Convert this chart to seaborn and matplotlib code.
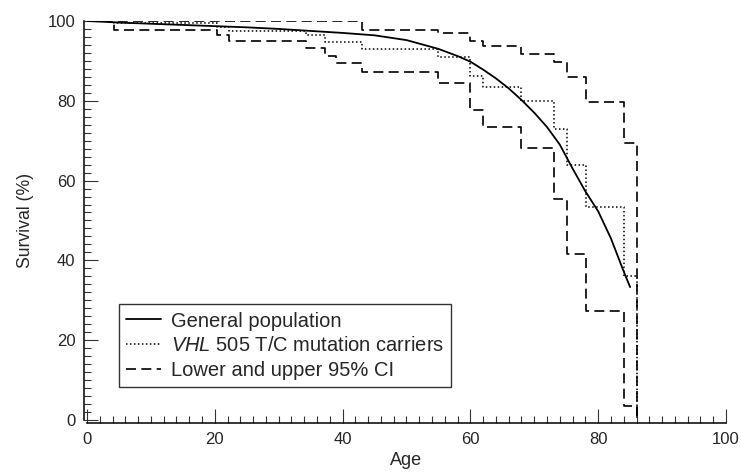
import matplotlib
matplotlib.use('Agg')
import matplotlib.pyplot as plt
from matplotlib.ticker import MultipleLocator
import seaborn as sns

# General population survival curve
pop_age = [0, 5, 10, 15, 20, 25, 30, 35, 40, 45, 50, 55, 58, 60, 62, 64, 66,
           68, 70, 72, 74, 76, 78, 80, 82, 84, 85]
pop_surv = [100, 99.6, 99.3, 99.0, 98.7, 98.4, 98.0, 97.5, 97.0, 96.4, 95.2,
            93.0, 91.2, 89.8, 87.8, 85.6, 83.1, 80.2, 77.0, 73.4, 69.0, 63.0,
            57.3, 52.3, 45.5, 37.2, 33.3]

# Kaplan-Meier steps for VHL 505 T/C carriers with 95% CI
step_age = [0, 4.2, 20.3, 22.3, 34.3, 37.2, 39.0, 43.1, 55.0, 60.0, 62.0,
            68.0, 73.1, 75.1, 78.1, 84.0, 86.0]
carrier_surv = [100, 99.4, 98.4, 97.5, 96.5, 94.7, 94.7, 93.0, 90.9, 86.1,
                83.4, 79.9, 73.0, 63.9, 53.4, 36.2, 0]
lower_ci = [100, 97.8, 96.4, 95.1, 93.2, 91.1, 89.5, 87.2, 84.5, 77.6, 73.5,
            68.1, 55.4, 41.5, 27.2, 3.4, 0]
upper_ci = [100, 100, 100, 100, 100, 100, 100, 97.8, 97.0, 95.0, 93.8, 91.7,
            89.6, 85.9, 79.7, 69.3, 0]

sns.set_style('white')
plt.rcParams['font.family'] = ['Liberation Sans', 'DejaVu Sans']
plt.rcParams['mathtext.fontset'] = 'custom'
plt.rcParams['mathtext.it'] = 'Liberation Sans:italic'
plt.rcParams['mathtext.rm'] = 'Liberation Sans'

fig = plt.figure(figsize=(7.41, 4.73), dpi=100)
ax = fig.add_axes([0.1174, 0.1121, 0.8623, 0.8436])

sns.lineplot(x=pop_age, y=pop_surv, ax=ax, color='black', linewidth=1.3,
             estimator=None, sort=False, label='General population')
sns.lineplot(x=step_age, y=carrier_surv, ax=ax, color='black', linewidth=1.1,
             linestyle=(0, (1, 1.6)), drawstyle='steps-post', estimator=None,
             sort=False, label=r'$\mathit{VHL}$ 505 T/C mutation carriers')
sns.lineplot(x=step_age, y=lower_ci, ax=ax, color='black', linewidth=1.2,
             linestyle=(0, (6, 3.2)), drawstyle='steps-post', estimator=None,
             sort=False, label='Lower and upper 95% CI')
sns.lineplot(x=step_age, y=upper_ci, ax=ax, color='black', linewidth=1.2,
             linestyle=(0, (6, 3.2)), drawstyle='steps-post', estimator=None,
             sort=False)

ax.set_xlim(0, 100)
ax.set_ylim(0, 100)
ax.xaxis.set_major_locator(MultipleLocator(20))
ax.xaxis.set_minor_locator(MultipleLocator(2))
ax.yaxis.set_major_locator(MultipleLocator(20))
ax.yaxis.set_minor_locator(MultipleLocator(2))
ax.tick_params(which='both', bottom=True, left=True, top=False, right=False)
ax.tick_params(which='major', direction='in', length=10, width=0.8,
               color='#333333', labelsize=12, pad=6)
ax.tick_params(which='minor', direction='in', length=5, width=0.8,
               color='#333333')

for side in ['top', 'right']:
    ax.spines[side].set_visible(False)
for side in ['left', 'bottom']:
    ax.spines[side].set_linewidth(1.1)
    ax.spines[side].set_color('black')
    ax.spines[side].set_position(('outward', 2.4))

ax.set_xlabel('Age', fontsize=13, labelpad=4)
ax.set_ylabel('Survival (%)', fontsize=12.7, labelpad=10)

leg = ax.legend(loc='lower left', bbox_to_anchor=(0.05, 0.083),
                borderaxespad=0, fontsize=14.5, frameon=True, fancybox=False,
                edgecolor='black', handlelength=1.75, handletextpad=0.5,
                labelspacing=0.28, borderpad=0.35)
leg.get_frame().set_linewidth(1.0)

fig.savefig('out.png', dpi=100)
